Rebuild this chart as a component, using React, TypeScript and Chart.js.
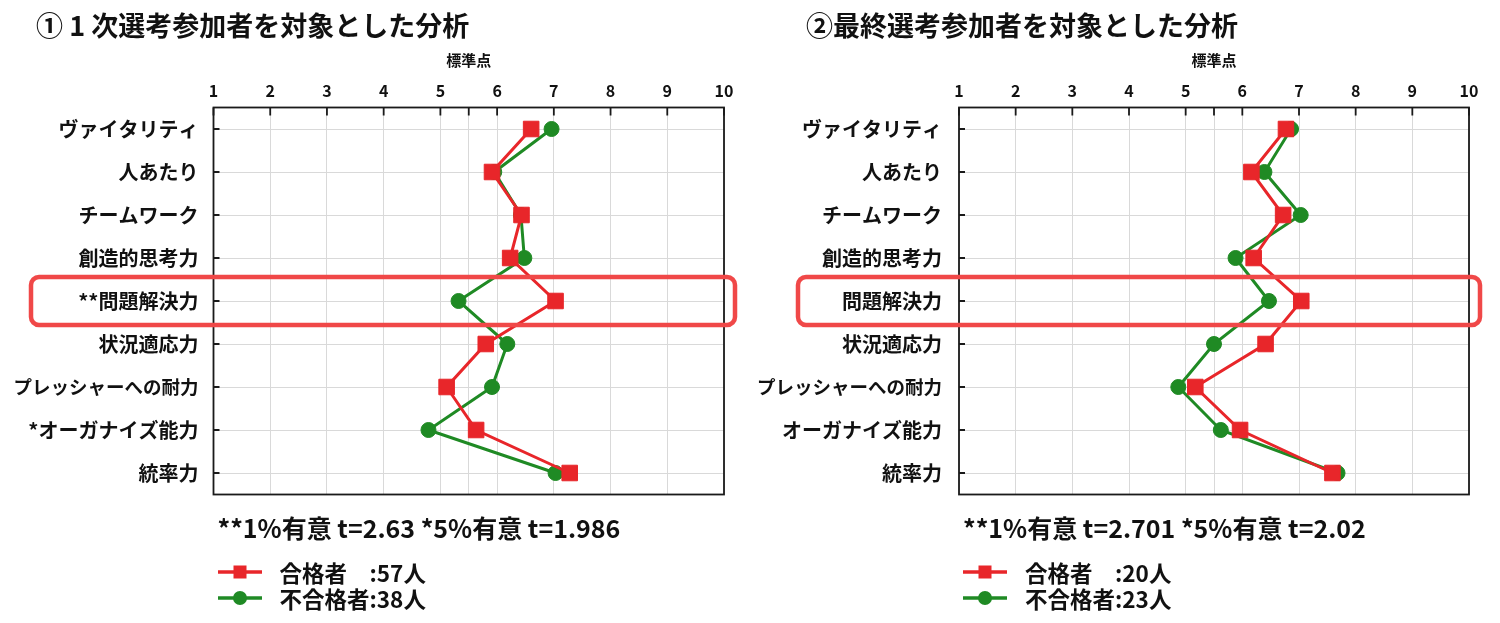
import React, { useEffect, useRef } from 'react';
import { Chart, registerables } from 'chart.js';

Chart.register(...registerables);

const FONT = '"Noto Sans CJK JP", "Noto Sans", sans-serif';

const TITLE_1 = '① 1 次選考参加者を対象とした分析';
const TITLE_2 = '②最終選考参加者を対象とした分析';
const AXIS_TITLE = '標準点';

const X_TICKS = [1, 2, 3, 4, 5, 5.5, 6, 7, 8, 9, 10];
const X_TICK_LABELS = ['1', '2', '3', '4', '5', '', '6', '7', '8', '9', '10'];

const CATEGORIES_1 = [
  'ヴァイタリティ',
  '人あたり',
  'チームワーク',
  '創造的思考力',
  '**問題解決力',
  '状況適応力',
  'プレッシャーへの耐力',
  '*オーガナイズ能力',
  '統率力',
];
const CATEGORIES_2 = [
  'ヴァイタリティ',
  '人あたり',
  'チームワーク',
  '創造的思考力',
  '問題解決力',
  '状況適応力',
  'プレッシャーへの耐力',
  'オーガナイズ能力',
  '統率力',
];

const SERIES_NAMES = ['合格者　', '不合格者'];
const COUNTS_1 = [57, 38];
const COUNTS_2 = [20, 23];

const PASS_1 = [6.6, 5.91, 6.43, 6.23, 7.03, 5.8, 5.11, 5.63, 7.28];
const FAIL_1 = [6.96, 5.95, 6.42, 6.48, 5.32, 6.18, 5.91, 4.79, 7.03];
const PASS_2 = [6.77, 6.16, 6.72, 6.2, 7.04, 6.41, 5.17, 5.96, 7.59];
const FAIL_2 = [6.86, 6.39, 7.03, 5.88, 6.47, 5.5, 4.87, 5.62, 7.68];

const NOTE_1 = '**1%有意 t=2.63 *5%有意 t=1.986';
const NOTE_2 = '**1%有意 t=2.701 *5%有意 t=2.02';

const HIGHLIGHT_INDEX = 4;

const RED = '#e8262a';
const GREEN = '#1f8a24';
const GRID = '#d9d9d9';

const frameTicks = {
  id: 'frameTicks',
  afterDatasetsDraw(chart: any) {
    const { ctx, chartArea: a, scales } = chart;
    ctx.save();
    ctx.strokeStyle = '#1a1a1a';
    ctx.lineWidth = 1.8;
    ctx.strokeRect(a.left, a.top, a.right - a.left, a.bottom - a.top);
    ctx.beginPath();
    scales.x.ticks.forEach((t: any) => {
      const px = scales.x.getPixelForValue(t.value);
      ctx.moveTo(px, a.top);
      ctx.lineTo(px, a.top + 8);
    });
    scales.y.ticks.forEach((_t: any, i: number) => {
      const py = scales.y.getPixelForTick(i);
      ctx.moveTo(a.left, py);
      ctx.lineTo(a.left + 6, py);
    });
    ctx.stroke();
    ctx.restore();
  },
};

const highlight = {
  id: 'highlight',
  afterDraw(chart: any, _args: any, opts: any) {
    const { ctx, scales } = chart;
    const cy = scales.y.getPixelForValue(opts.index);
    const x0 = opts.left;
    const x1 = opts.right;
    const y0 = cy - opts.half;
    const y1 = cy + opts.half;
    ctx.save();
    ctx.strokeStyle = '#f04848';
    ctx.lineWidth = 4.5;
    ctx.beginPath();
    ctx.roundRect(x0, y0, x1 - x0, y1 - y0, 8);
    ctx.stroke();
    ctx.restore();
  },
};

type PanelProps = {
  offsetX: number;
  plotLeft: number;
  plotRight: number;
  titleX: number;
  hlLeft: number;
  hlRight: number;
  labelPad: number;
  title: string;
  categories: string[];
  pass: number[];
  fail: number[];
  counts: number[];
  note: string;
};

function Panel(p: PanelProps) {
  const ref = useRef<HTMLCanvasElement | null>(null);

  useEffect(() => {
    if (!ref.current) return;
    const chart = new Chart(ref.current, {
      type: 'line',
      data: {
        labels: p.categories,
        datasets: [
          {
            label: SERIES_NAMES[0],
            data: p.pass,
            borderColor: RED,
            backgroundColor: RED,
            borderWidth: 3,
            pointStyle: 'rect',
            pointRadius: 11,
            pointBorderWidth: 1,
            pointBorderColor: RED,
            pointBackgroundColor: RED,
          },
          {
            label: SERIES_NAMES[1],
            data: p.fail,
            borderColor: GREEN,
            backgroundColor: GREEN,
            borderWidth: 3,
            pointStyle: 'circle',
            pointRadius: 7.5,
            pointBorderWidth: 1,
            pointBorderColor: GREEN,
            pointBackgroundColor: GREEN,
          },
        ],
      },
      options: {
        indexAxis: 'y',
        responsive: false,
        animation: false,
        events: [],
        layout: {
          padding: { left: 0, top: 0, right: 750 - p.plotRight, bottom: 623 - 494.5 },
        },
        plugins: {
          legend: { display: false },
          tooltip: { enabled: false },
          highlight: { index: HIGHLIGHT_INDEX, left: p.hlLeft, right: p.hlRight, half: 24 },
        } as any,
        scales: {
          x: {
            type: 'linear',
            position: 'top',
            min: 1,
            max: 10,
            afterBuildTicks: (s: any) => {
              s.ticks = X_TICKS.map((v) => ({ value: v }));
            },
            afterFit: (s: any) => {
              s.height = 107.5;
            },
            ticks: {
              autoSkip: false,
              maxRotation: 0,
              padding: 7,
              color: '#111',
              font: { family: FONT, size: 16, weight: 'bold' },
              callback: (v: any) => X_TICK_LABELS[X_TICKS.indexOf(Number(v))] ?? '',
            },
            grid: { color: GRID, drawTicks: false, lineWidth: 1 },
            border: { display: false },
            title: {
              display: true,
              text: AXIS_TITLE,
              color: '#111',
              font: { family: FONT, size: 15, weight: 'bold' },
              padding: { top: 51, bottom: 0 },
            },
          },
          y: {
            type: 'category',
            offset: true,
            afterFit: (s: any) => {
              s.width = p.plotLeft;
            },
            ticks: {
              autoSkip: false,
              padding: p.labelPad,
              color: '#111',
              font: (c: any) => {
                const lbl = p.categories[c.index] || '';
                return { family: FONT, size: lbl.length >= 10 ? 18.5 : 20, weight: 'bold' };
              },
            },
            grid: { color: GRID, drawTicks: false, offset: false, lineWidth: 1 },
            border: { display: false },
          },
        },
      } as any,
      plugins: [frameTicks, highlight],
    });
    return () => chart.destroy();
  }, []);

  const markers = [
    <svg width="44" height="20" key="r">
      <line x1="0" y1="10" x2="44" y2="10" stroke={RED} strokeWidth="3.5" />
      <rect x="15.5" y="3.5" width="13" height="13" fill={RED} />
    </svg>,
    <svg width="44" height="20" key="g">
      <line x1="0" y1="10" x2="44" y2="10" stroke={GREEN} strokeWidth="3.5" />
      <circle cx="22" cy="10" r="7" fill={GREEN} />
    </svg>,
  ];

  return (
    <div style={{ position: 'absolute', left: p.offsetX, top: 0, width: 750, height: 623 }}>
      <canvas ref={ref} width={750} height={623} style={{ position: 'absolute', left: 0, top: 0, width: 750, height: 623 }} />
      <div
        style={{
          position: 'absolute',
          left: p.titleX - p.offsetX,
          top: 8,
          fontFamily: FONT,
          fontWeight: 'bold',
          fontSize: 27,
          lineHeight: '34px',
          color: '#111',
          whiteSpace: 'nowrap',
        }}
      >
        {p.title}
      </div>
      <div
        style={{
          position: 'absolute',
          left: p.plotLeft + 4,
          top: 510,
          fontFamily: FONT,
          fontWeight: 'bold',
          fontSize: 25,
          lineHeight: '34px',
          color: '#111',
          whiteSpace: 'nowrap',
        }}
      >
        {p.note}
      </div>
      <div style={{ position: 'absolute', left: p.plotLeft + 4, top: 559 }}>
        {SERIES_NAMES.map((name, i) => (
          <div key={i} style={{ display: 'flex', alignItems: 'center', height: 26 }}>
            {markers[i]}
            <span
              style={{
                marginLeft: 18,
                fontFamily: FONT,
                fontWeight: 'bold',
                fontSize: 22.5,
                lineHeight: '26px',
                color: '#111',
                whiteSpace: 'pre',
              }}
            >
              {name}:{p.counts[i]}人
            </span>
          </div>
        ))}
      </div>
    </div>
  );
}

export default function App() {
  return (
    <div style={{ position: 'absolute', left: 0, top: 0, width: 1500, height: 623, background: '#fff', overflow: 'hidden' }}>
      <Panel
        offsetX={0}
        plotLeft={213.5}
        plotRight={724}
        titleX={36}
        hlLeft={31}
        hlRight={735}
        labelPad={15}
        title={TITLE_1}
        categories={CATEGORIES_1}
        pass={PASS_1}
        fail={FAIL_1}
        counts={COUNTS_1}
        note={NOTE_1}
      />
      <Panel
        offsetX={750}
        plotLeft={209}
        plotRight={719}
        titleX={806}
        hlLeft={48}
        hlRight={730}
        labelPad={17}
        title={TITLE_2}
        categories={CATEGORIES_2}
        pass={PASS_2}
        fail={FAIL_2}
        counts={COUNTS_2}
        note={NOTE_2}
      />
    </div>
  );
}
